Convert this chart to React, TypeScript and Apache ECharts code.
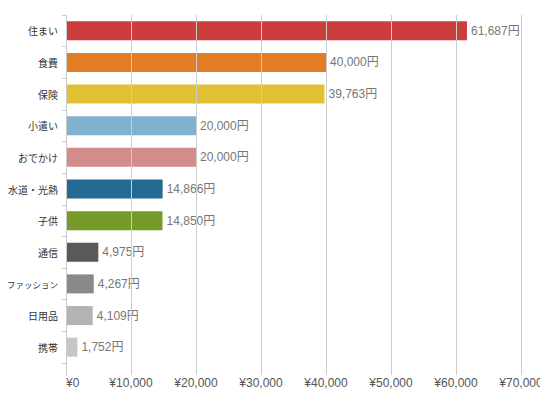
import React, { useEffect, useRef } from "react";
import * as echarts from "echarts";

const categories = [
  "住まい",
  "食費",
  "保険",
  "小遣い",
  "おでかけ",
  "水道・光熱",
  "子供",
  "通信",
  "ファッション",
  "日用品",
  "携帯",
];
const amounts = [61687, 40000, 39763, 20000, 20000, 14866, 14850, 4975, 4267, 4109, 1752];
const barColors = [
  "#cc3e3e",
  "#e37e27",
  "#e2c033",
  "#80b1d0",
  "#d48b8b",
  "#246a93",
  "#769b2b",
  "#595959",
  "#898989",
  "#b3b3b3",
  "#c6c6c6",
];
const xMax = 70000;
const xStep = 10000;

const latin = "'Liberation Sans', Arial, 'Noto Sans CJK JP', sans-serif";
const cjk = "'Noto Sans CJK JP', sans-serif";

const App: React.FC = () => {
  const chartRef = useRef<HTMLDivElement>(null);

  useEffect(() => {
    if (!chartRef.current) return;
    const chart = echarts.init(chartRef.current, undefined, { renderer: "svg" });

    const option = {
      animation: false,
      grid: [
        // bars + categories
        { left: 66, right: 27, top: 15, bottom: 43, containLabel: false, outerBoundsMode: "none" },
        // grid lines, x labels, long y axis line
        { left: 66, right: 27, top: 15, bottom: 31, containLabel: false, outerBoundsMode: "none" },
      ],
      xAxis: [
        {
          gridIndex: 0,
          type: "value",
          min: 0,
          max: xMax,
          interval: xStep,
          show: false,
        },
        {
          gridIndex: 1,
          type: "value",
          min: 0,
          max: xMax,
          interval: xStep,
          z: 5,
          axisLine: { show: false },
          axisTick: { show: false },
          splitLine: { show: true, lineStyle: { color: "#cccccc", width: 1 } },
          axisLabel: {
            color: "#555",
            fontSize: 12,
            fontFamily: latin,
            margin: 2,
            alignMinLabel: "left",
            formatter: (v: number) => "¥" + v.toLocaleString("en-US"),
          },
        },
      ],
      yAxis: [
        {
          gridIndex: 0,
          type: "category",
          inverse: true,
          data: categories,
          axisLine: { show: false },
          axisTick: {
            show: true,
            length: 4,
            lineStyle: { color: "#cccccc" },
          },
          axisLabel: {
            color: "#333",
            fontSize: 10,
            fontFamily: cjk,
            margin: 8,
            // long katakana label squeezed so it fits the left margin
            formatter: (v: string) => (v.length > 5 ? "{s|" + v + "}" : v),
            rich: {
              s: { fontSize: 8.5, fontFamily: cjk, color: "#333" },
            },
          },
        },
        {
          gridIndex: 1,
          type: "value",
          min: 0,
          max: 1,
          axisLine: { show: true, lineStyle: { color: "#cccccc", width: 1 } },
          axisTick: { show: false },
          axisLabel: { show: false },
          splitLine: { show: false },
        },
      ],
      series: [
        {
          type: "bar",
          xAxisIndex: 0,
          yAxisIndex: 0,
          barWidth: 19,
          data: amounts.map((v, i) => ({
            value: v,
            itemStyle: { color: barColors[i] },
          })),
          label: {
            show: true,
            position: "right",
            distance: 4,
            color: "#777",
            fontSize: 12,
            fontFamily: latin,
            formatter: (p: any) => p.value.toLocaleString("en-US") + "円",
          },
        },
      ],
    };
    chart.setOption(option);

    return () => {
      chart.dispose();
    };
  }, []);

  return <div ref={chartRef} style={{ width: 548, height: 406, margin: -8 }} />;
};

export default App;
